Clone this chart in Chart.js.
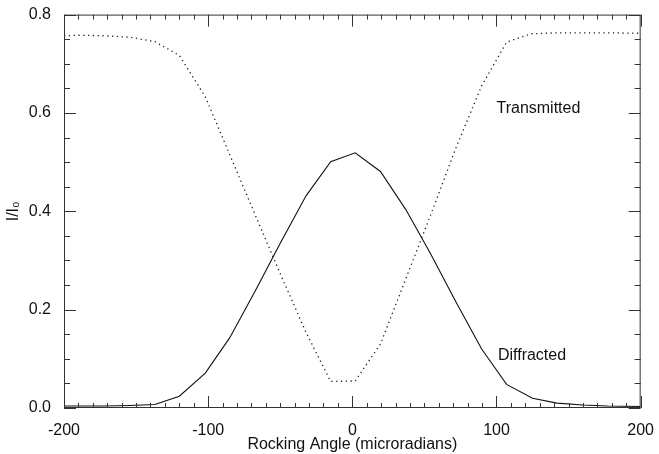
<!DOCTYPE html>
<html>
<head>
<meta charset="utf-8">
<script src="https://cdn.jsdelivr.net/npm/chart.js@4.4.1/dist/chart.umd.min.js"></script>
<style>
  html, body { margin: 0; padding: 0; background: #fff; }
  #wrap { width: 659px; height: 454px; }
</style>
</head>
<body>
<div id="wrap"><canvas id="rockingChart"></canvas></div>
<script>
// rocking angle (microradians) and normalised intensities
const diffAngle = [-200, -172, -154, -137, -120, -102, -85, -67, -50, -32, -15, 2, 19.5, 37, 54, 72, 89.7, 107, 125, 142, 160, 177, 200];
const diffracted = [0.004, 0.004, 0.005, 0.007, 0.024, 0.071, 0.143, 0.240, 0.335, 0.432, 0.501, 0.519, 0.481, 0.404, 0.315, 0.215, 0.120, 0.048, 0.020, 0.010, 0.006, 0.004, 0.003];

const transAngle = [-200, -189, -172, -154, -137, -120, -102, -85, -67, -50, -32, -15, 2, 19.5, 37, 54, 72, 89.7, 107, 124, 142, 160, 177, 200];
const transmitted = [0.757, 0.758, 0.757, 0.754, 0.745, 0.717, 0.633, 0.515, 0.390, 0.273, 0.153, 0.054, 0.055, 0.130, 0.262, 0.390, 0.530, 0.655, 0.744, 0.761, 0.763, 0.763, 0.763, 0.762];

const xTicks = [-200, -100, 0, 100, 200];
const yTicks = [0.0, 0.2, 0.4, 0.6, 0.8];

const curveLabels = [
  { text: 'Transmitted', x: 100, y: 0.609 },
  { text: 'Diffracted', x: 101, y: 0.107 }
];

const FONT = '"Liberation Sans", Arial, Helvetica, sans-serif';

function toPoints(xs, ys) {
  return xs.map((x, i) => ({ x: x, y: ys[i] }));
}

// frame with inward major/minor ticks on all four sides, plus curve labels
const framePlugin = {
  id: 'frameTicks',
  afterDraw(chart) {
    const ctx = chart.ctx;
    const xs = chart.scales.x, ys = chart.scales.y;
    const a = chart.chartArea;
    ctx.save();
    ctx.strokeStyle = '#333';
    ctx.lineWidth = 1;
    ctx.strokeRect(a.left + 0.5, a.top + 0.5, a.right - a.left - 1, a.bottom - a.top - 1);

    ctx.beginPath();
    for (let v = -200; v <= 200; v += 10) {
      const px = Math.round(xs.getPixelForValue(v)) + 0.5;
      const len = v % 100 === 0 ? 12 : 5;
      ctx.moveTo(px, a.bottom); ctx.lineTo(px, a.bottom - len);
      ctx.moveTo(px, a.top); ctx.lineTo(px, a.top + len);
    }
    for (let k = 0; k <= 16; k++) {
      const v = k * 0.05;
      const py = Math.round(ys.getPixelForValue(v)) + 0.5;
      const len = k % 4 === 0 ? 12 : 6;
      ctx.moveTo(a.left, py); ctx.lineTo(a.left + len, py);
      ctx.moveTo(a.right, py); ctx.lineTo(a.right - len, py);
    }
    ctx.stroke();

    ctx.fillStyle = '#111';
    ctx.font = '16px ' + FONT;
    ctx.textBaseline = 'middle';
    ctx.textAlign = 'left';
    curveLabels.forEach(l => {
      ctx.fillText(l.text, xs.getPixelForValue(l.x), ys.getPixelForValue(l.y));
    });
    ctx.restore();
  }
};

new Chart(document.getElementById('rockingChart'), {
  type: 'line',
  data: {
    datasets: [
      {
        label: 'Diffracted',
        data: toPoints(diffAngle, diffracted),
        borderColor: '#111',
        borderWidth: 1.1,
        pointRadius: 0,
        tension: 0,
        fill: false
      },
      {
        label: 'Transmitted',
        data: toPoints(transAngle, transmitted),
        borderColor: '#222',
        borderWidth: 1.3,
        borderDash: [1.3, 3.5],
        pointRadius: 0,
        tension: 0,
        fill: false
      }
    ]
  },
  options: {
    responsive: true,
    maintainAspectRatio: false,
    animation: false,
    layout: { padding: { top: 14, right: 15, left: 0, bottom: 0 } },
    plugins: {
      legend: { display: false },
      tooltip: { enabled: false }
    },
    scales: {
      x: {
        type: 'linear',
        min: -200,
        max: 200,
        afterBuildTicks: scale => { scale.ticks = xTicks.map(v => ({ value: v })); },
        afterFit: scale => { scale.height = 46; },
        grid: { display: false },
        border: { display: false },
        ticks: {
          color: '#111',
          font: { family: FONT, size: 16 },
          padding: 5,
          maxRotation: 0
        },
        title: {
          display: true,
          text: 'Rocking Angle (microradians)',
          color: '#111',
          font: { family: FONT, size: 16 },
          padding: { top: 0, bottom: 0 }
        }
      },
      y: {
        min: 0,
        max: 0.8,
        afterBuildTicks: scale => { scale.ticks = yTicks.map(v => ({ value: v })); },
        afterFit: scale => { scale.width = 64; },
        grid: { display: false },
        border: { display: false },
        ticks: {
          color: '#111',
          font: { family: FONT, size: 16 },
          padding: 5,
          callback: v => v.toFixed(1)
        },
        title: {
          display: true,
          text: 'I/I₀',
          color: '#111',
          font: { family: FONT, size: 16 },
          padding: { top: 4, bottom: 0 }
        }
      }
    }
  },
  plugins: [framePlugin]
});
</script>
</body>
</html>
